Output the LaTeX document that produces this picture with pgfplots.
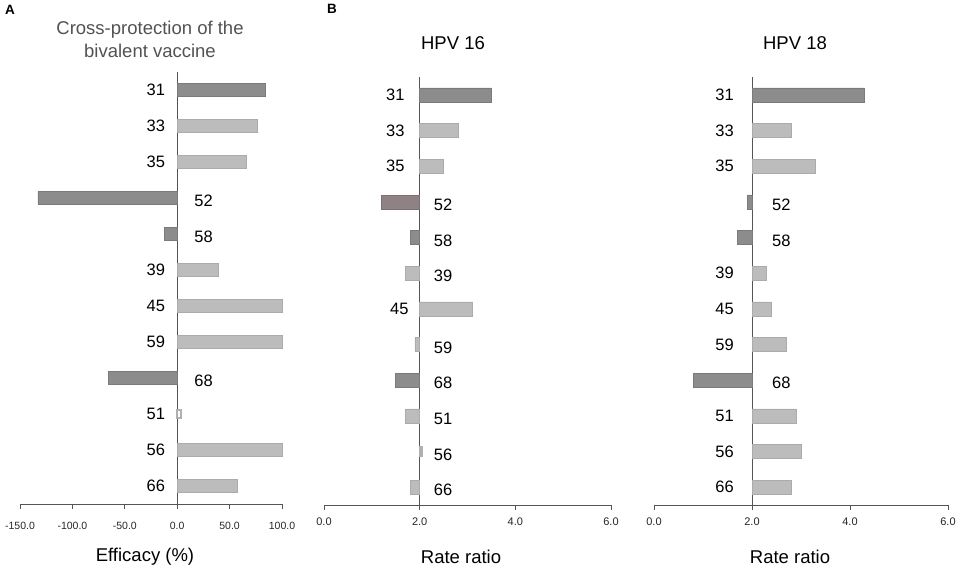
\documentclass[border=0pt]{standalone}
\usepackage{pgfplots}
\pgfplotsset{compat=1.18}
\usepackage{fontspec}
\setmainfont{Liberation Sans}
\definecolor{dk}{HTML}{8C8C8C}
\definecolor{dke}{HTML}{7A7A7A}
\definecolor{br}{HTML}{8E8284}
\definecolor{bre}{HTML}{7C7072}
\definecolor{lt}{HTML}{BCBCBC}
\definecolor{lte}{HTML}{ABABAB}
\definecolor{ho}{HTML}{B0B0B0}
\definecolor{ax}{HTML}{555555}
\newcommand{\lblfont}{\fontsize{16.5}{18}\selectfont}
\newcommand{\ttlfont}{\fontsize{18.5}{23}\selectfont}
\pgfplotsset{
  panel/.style={
    scale only axis, anchor=south west,
    ymin=-0.5, ymax=11.5,
    axis x line*=bottom, axis y line*=center,
    ytick=\empty,
    axis line style={draw=ax, line width=0.9pt, -},
    every tick/.style={draw=ax, line width=0.9pt},
    tick align=outside, major tick length=5pt,
    clip=false,
  },
  hb/.style={xbar, bar shift=0pt, bar width=#1, line width=0.6pt},
  labl/.style 2 args={draw=none, mark=none, point meta=explicit symbolic, nodes near coords,
    every node near coord/.append style={anchor=east, inner sep=0pt, xshift=-#1, font=\lblfont, text=black}},
  labr/.style 2 args={draw=none, mark=none, point meta=explicit symbolic, nodes near coords,
    every node near coord/.append style={anchor=west, inner sep=0pt, xshift=#1, yshift=-3pt, font=\lblfont, text=black}},
}
\begin{document}
\begin{tikzpicture}
\useasboundingbox (0pt,0pt) rectangle (957pt,568pt);

% ---------------- Panel A ----------------
\begin{axis}[panel, at={(20pt,64pt)}, width=262pt, height=432pt,
  xmin=-150, xmax=100,
  xtick={-150,-100,-50,0,50,100},
  xticklabels={-150.0,-100.0,-50.0,0.0,50.0,100.0},
  xticklabel style={font=\fontsize{10.5}{12}\selectfont, text=black!85, yshift=-10pt},
]
\addplot[hb=13pt, fill=dk, draw=dke] coordinates {(84,11) (-133,8) (-12,7) (-66,3)};
\addplot[hb=13pt, fill=lt, draw=lte] coordinates {(76,10) (66,9) (39,6) (100,5) (100,4) (100,1) (57,0)};
\addplot[hb=8.5pt, fill=white, draw=ho, line width=2pt] coordinates {(3.5,2)};
\addplot[labl={12pt}{}] coordinates {(0,11)[31] (0,10)[33] (0,9)[35] (0,6)[39] (0,5)[45] (0,4)[59] (0,2)[51] (0,1)[56] (0,0)[66]};
\addplot[labr={17pt}{}] coordinates {(0,8)[52] (0,7)[58] (0,3)[68]};
\end{axis}

% ---------------- Panel B: HPV 16 ----------------
\begin{axis}[panel, at={(324pt,63pt)}, width=287pt, height=428pt,
  xmin=-2, xmax=4,
  xtick={-2,0,2,4},
  xticklabels={0.0,2.0,4.0,6.0},
  xticklabel style={font=\fontsize{11}{12}\selectfont, text=black!85, yshift=-4pt},
]
\addplot[hb=14pt, fill=dk, draw=dke, x filter/.expression={x-2}] coordinates {(3.5,11) (1.8,7) (1.5,3)};
\addplot[hb=14pt, fill=br, draw=bre, x filter/.expression={x-2}] coordinates {(1.2,8)};
\addplot[hb=14pt, fill=lt, draw=lte, x filter/.expression={x-2}] coordinates {(2.8,10) (2.5,9) (1.7,6) (3.1,5) (1.9,4) (1.7,2) (1.8,0)};
\addplot[hb=9pt, fill=white, draw=ho, line width=2pt, x filter/.expression={x-2}] coordinates {(2.04,1)};
\addplot[labl={15pt}{}] coordinates {(0,11)[31] (0,10)[33] (0,9)[35]};
\addplot[labl={11pt}{}] coordinates {(0,5)[45]};
\addplot[labr={14pt}{}] coordinates {(0,8)[52] (0,7)[58] (0,6)[39] (0,4)[59] (0,3)[68] (0,2)[51] (0,1)[56] (0,0)[66]};
\end{axis}

% ---------------- Panel B: HPV 18 ----------------
\begin{axis}[panel, at={(654pt,63pt)}, width=294pt, height=428pt,
  xmin=-2, xmax=4,
  xtick={-2,0,2,4},
  xticklabels={0.0,2.0,4.0,6.0},
  xticklabel style={font=\fontsize{11}{12}\selectfont, text=black!85, yshift=-4pt},
]
\addplot[hb=14pt, fill=dk, draw=dke, x filter/.expression={x-2}] coordinates {(4.3,11) (1.9,8) (1.7,7) (0.8,3)};
\addplot[hb=14pt, fill=lt, draw=lte, x filter/.expression={x-2}] coordinates {(2.8,10) (3.3,9) (2.3,6) (2.4,5) (2.7,4) (2.9,2) (3.0,1) (2.8,0)};
\addplot[labl={18pt}{}] coordinates {(0,11)[31] (0,10)[33] (0,9)[35] (0,6)[39] (0,5)[45] (0,4)[59] (0,2)[51] (0,1)[56] (0,0)[66]};
\addplot[labr={20pt}{}] coordinates {(0,8)[52] (0,7)[58] (0,3)[68]};
\end{axis}

% ---------------- Titles and labels ----------------
\node[font=\fontsize{13.5}{15}\selectfont\bfseries] at (10pt,558pt) {A};
\node[font=\fontsize{13.5}{15}\selectfont\bfseries] at (332pt,559pt) {B};
\node[font=\ttlfont, text=black!68, align=center] at (150pt,529pt) {Cross-protection of the\\bivalent vaccine};
\node[font=\ttlfont] at (453pt,525pt) {HPV 16};
\node[font=\ttlfont] at (795pt,525pt) {HPV 18};
\node[font=\ttlfont] at (145pt,11pt) {Efficacy (\%)};
\node[font=\ttlfont] at (461pt,11pt) {Rate ratio};
\node[font=\ttlfont] at (790pt,11pt) {Rate ratio};
\end{tikzpicture}
\end{document}
